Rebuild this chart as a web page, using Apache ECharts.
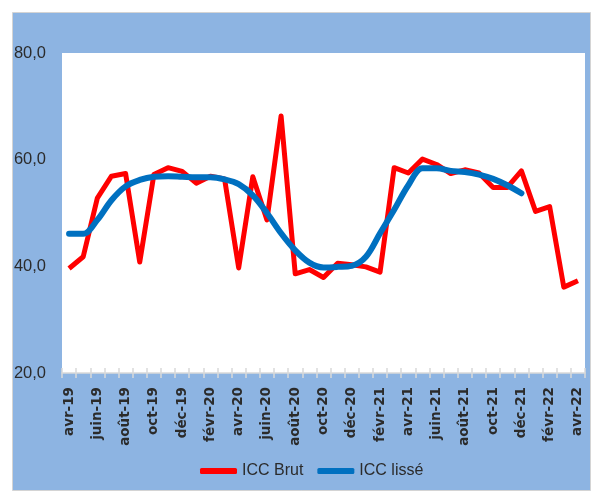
<!DOCTYPE html>
<html>
<head>
<meta charset="utf-8">
<script src="https://cdn.jsdelivr.net/npm/echarts@6/dist/echarts.min.js"></script>
<style>
  html, body { margin: 0; padding: 0; background: #ffffff; }
  #chart { width: 591px; height: 492px; }
</style>
</head>
<body>
<div id="chart"></div>
<script>
// mois avr-19 .. avr-22
const categories = [
  'avr-19', 'mai-19', 'juin-19', 'juil-19', 'août-19', 'sept-19', 'oct-19', 'nov-19', 'déc-19',
  'janv-20', 'févr-20', 'mars-20', 'avr-20', 'mai-20', 'juin-20', 'juil-20', 'août-20', 'sept-20',
  'oct-20', 'nov-20', 'déc-20', 'janv-21', 'févr-21', 'mars-21', 'avr-21', 'mai-21', 'juin-21',
  'juil-21', 'août-21', 'sept-21', 'oct-21', 'nov-21', 'déc-21', 'janv-22', 'févr-22', 'mars-22',
  'avr-22'
];

const iccBrut = [
  39.6, 41.8, 52.8, 56.9, 57.4, 40.8, 57.2, 58.5, 57.8,
  55.6, 56.9, 56.4, 39.7, 56.8, 48.7, 68.2, 38.6, 39.4,
  37.9, 40.6, 40.3, 39.9, 38.9, 58.5, 57.5, 60.1, 59.1,
  57.4, 58.1, 57.5, 54.8, 54.8, 57.9, 50.3, 51.2, 36.1,
  37.3
];

const iccLisse = [
  46.1, 46.1, 48.7, 52.4, 55.0, 56.2, 56.8, 56.9, 56.8,
  56.7, 56.7, 56.3, 55.4, 53.3, 50.0, 46.2, 43.0, 40.7,
  39.8, 39.9, 40.1, 41.8, 46.2, 50.6, 55.2, 58.4, 58.4,
  57.9, 57.7, 57.2, 56.4, 55.2, 53.7
];

const yMin = 20, yMax = 80, yStep = 20;

const txt = '#2b2b2b';
const sans = '"Liberation Sans", Arial, sans-serif';

const myChart = echarts.init(document.getElementById('chart'));
const option = {
  animation: false,
  backgroundColor: '#ffffff',
  graphic: [{
    type: 'rect',
    z: -10,
    shape: { x: 12.5, y: 12.5, width: 578, height: 478 },
    style: { fill: '#8DB4E2', stroke: '#D4D4D4', lineWidth: 1 }
  }],
  grid: {
    left: 62, right: 6, top: 53, bottom: 119,
    show: true, backgroundColor: '#ffffff', borderWidth: 0
  },
  legend: {
    left: 195, top: 457,
    icon: 'roundRect',
    itemWidth: 37, itemHeight: 6, itemGap: 14,
    textStyle: { fontFamily: sans, fontSize: 16, color: txt, lineHeight: 18 },
    data: ['ICC Brut', 'ICC lissé']
  },
  xAxis: [{
    type: 'category',
    data: categories,
    boundaryGap: true,
    axisLine: { lineStyle: { color: '#D9D9D9', width: 1.5 } },
    axisTick: { show: true, interval: 0, length: 5, lineStyle: { color: '#D9D9D9', width: 1.5 } },
    axisLabel: {
      interval: 1, rotate: 90, margin: 14,
      fontFamily: '"DejaVu Sans", sans-serif', fontWeight: 'bold', fontSize: 13.5, color: txt
    },
    splitLine: { show: false }
  }, {
    type: 'category',
    data: categories,
    position: 'bottom',
    boundaryGap: true,
    axisLine: { show: false },
    axisTick: { show: true, inside: true, interval: 0, length: 5, lineStyle: { color: '#D9D9D9', width: 1.5 } },
    axisLabel: { show: false },
    splitLine: { show: false }
  }],
  yAxis: {
    type: 'value',
    min: yMin, max: yMax, interval: yStep,
    axisLine: { show: false },
    axisTick: { show: false },
    splitLine: { show: false },
    axisLabel: {
      margin: 16,
      fontFamily: sans, fontSize: 16.5, color: txt,
      formatter: v => v.toFixed(1).replace('.', ',')
    }
  },
  series: [{
    name: 'ICC Brut',
    type: 'line',
    data: iccBrut,
    showSymbol: false,
    symbol: 'none',
    color: '#FF0000',
    lineStyle: { width: 5, color: '#FF0000', join: 'round', cap: 'butt' }
  }, {
    name: 'ICC lissé',
    type: 'line',
    data: iccLisse,
    showSymbol: false,
    symbol: 'none',
    smooth: 0.35,
    color: '#0070C0',
    lineStyle: { width: 6, color: '#0070C0', join: 'round', cap: 'round' }
  }]
};
myChart.setOption(option);
</script>
</body>
</html>
